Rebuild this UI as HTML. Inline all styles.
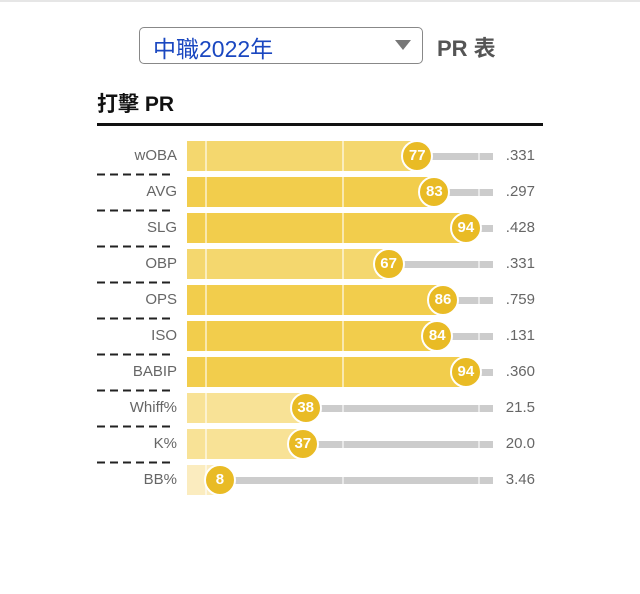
<!DOCTYPE html>
<html><head><meta charset="utf-8"><style>
body{margin:0;width:640px;height:594px;background:#fff;font-family:"Liberation Sans","Noto Sans CJK TC",sans-serif;position:relative;overflow:hidden}
.a{position:absolute}
.lbl{position:absolute;width:90px;left:87px;text-align:right;font-size:15px;color:#666}
.val{position:absolute;left:495px;width:40px;text-align:right;font-size:15px;color:#666}
.c{position:absolute;width:28px;height:28px;border-radius:50%;background:#e9bb25;border:2px solid #fff;color:#fff;font-weight:bold;font-size:15px;text-align:center;line-height:28px;font-family:"Liberation Sans",sans-serif}
</style></head><body>
<div class="a" style="left:0;top:0;width:640px;height:2px;background:#e6e6e6"></div>
<div class="a" style="left:139px;top:27px;width:282px;height:35px;border:1.5px solid #888;border-radius:5px"></div>
<div class="a" style="left:153px;top:30px;font-size:23px;color:#1a47c0">中職2022年</div>
<div class="a" style="left:395px;top:40px;width:0;height:0;border-left:8px solid transparent;border-right:8px solid transparent;border-top:10px solid #777"></div>
<div class="a" style="left:437px;top:31px;font-size:22px;color:#555;font-weight:bold">PR 表</div>
<div class="a" style="left:97px;top:88px;font-size:21px;color:#111;font-weight:bold">打擊 PR</div>
<div class="a" style="left:97px;top:123px;width:446px;height:3px;background:#111"></div>
<div id="rows"></div>
<script>
var d=[["wOBA",77,".331"],["AVG",83,".297"],["SLG",94,".428"],["OBP",67,".331"],["OPS",86,".759"],["ISO",84,".131"],["BABIP",94,".360"],["Whiff%",38,"21.5"],["K%",37,"20.0"],["BB%",8,"3.46"]];
var h="";
d.forEach(function(r,i){
 var y=141+i*36,v=r[1],cx=197+2.86*v;
 var col=v>=80?"#f2cd4c":v>=60?"#f4d76e":v>=30?"#f8e296":"#fbecbf";
 h+='<div class="a" style="left:187px;top:'+y+'px;width:'+(cx-187)+'px;height:30px;background:'+col+'"></div>';
 h+='<div class="a" style="left:'+cx+'px;top:'+(y+12)+'px;width:'+(493-cx)+'px;height:7px;background:#ccc"></div>';
 [205,342,478].forEach(function(x){h+='<div class="a" style="left:'+x+'px;top:'+y+'px;width:2px;height:30px;background:rgba(255,255,255,0.55)"></div>';});
 h+='<div class="c" style="left:'+(cx-16)+'px;top:'+(y-1)+'px">'+v+'</div>';
 h+='<div class="lbl" style="top:'+(y+6)+'px">'+r[0]+'</div>';
 h+='<div class="val" style="top:'+(y+6)+'px">'+r[2]+'</div>';
 if(i<9)h+='<svg class="a" style="left:97px;top:'+(y+32)+'px" width="80" height="3"><line x1="0" y1="1.5" x2="76" y2="1.5" stroke="#222" stroke-width="2" stroke-dasharray="8,5"/></svg>';
});
document.getElementById("rows").innerHTML=h;
</script>
</body></html>
